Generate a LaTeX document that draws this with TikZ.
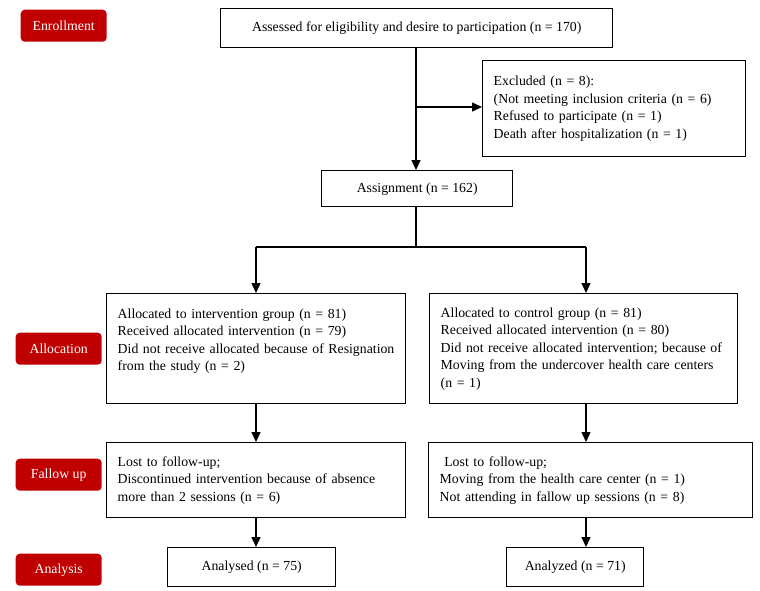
\documentclass[tikz,border=0pt]{standalone}
\usepackage{fontspec}
\setmainfont{Liberation Serif}
\usepackage{tikz}
\usetikzlibrary{arrows.meta}

\definecolor{phasered}{RGB}{192,0,0}

\begin{document}
\begin{tikzpicture}[x=1pt,y=-1pt,>={Triangle[length=10pt,width=9pt]},line width=1.4pt,
  box/.style={draw,anchor=north west,align=left,inner xsep=11pt,inner ysep=3pt,font=\fontsize{13.8}{17.5}\selectfont},
  cbox/.style={box,align=center},
  phase/.style={fill=phasered,text=white,rounded corners=4pt,anchor=north west,minimum width=86pt,minimum height=32pt,inner sep=0pt,font=\fontsize{13.8}{16}\selectfont}]
\useasboundingbox (0,0) rectangle (760,590);

% phase labels
\node[phase] (enrol) at (20,9) {Enrollment};
\node[phase] (alloc) at (15,332) {Allocation};
\node[phase] (follow) at (15,458) {Fallow up};
\node[phase] (anal) at (15,553) {Analysis};

% boxes
\node[cbox,minimum width=392pt,minimum height=39pt] (assess) at (220,8) {Assessed for eligibility and desire to participation (n = 170)};
\node[box,text width=241pt,minimum width=263pt,minimum height=96pt] (excl) at (482,60) {Excluded (n = 8):\\(Not meeting inclusion criteria (n = 6)\\Refused to participate (n = 1)\\Death after hospitalization (n = 1)};
\node[cbox,minimum width=191pt,minimum height=36pt] (assign) at (321,170) {Assignment (n = 162)};
\node[box,text width=277pt,minimum width=299pt,minimum height=110pt] (int) at (106,293) {Allocated to intervention group (n = 81)\\Received allocated intervention (n = 79)\\Did not receive allocated because of Resignation\\from the study (n = 2)\\\mbox{}};
\node[box,text width=286pt,minimum width=308pt,minimum height=110pt] (ctrl) at (429,293) {Allocated to control group (n = 81)\\Received allocated intervention (n = 80)\\Did not receive allocated intervention; because of\\Moving from the undercover health care centers\\(n = 1)};
\node[box,text width=277pt,minimum width=299pt,minimum height=75pt] (lostint) at (106,442) {Lost to follow-up;\\Discontinued intervention because of absence\\more than 2 sessions (n = 6)};
\node[box,text width=302pt,minimum width=324pt,minimum height=75pt] (lostctrl) at (428,442) {\ Lost to follow-up;\\Moving from the health care center (n = 1)\\Not attending in fallow up sessions (n = 8)};
\node[cbox,minimum width=168pt,minimum height=39pt] (anaint) at (167,547) {Analysed (n = 75)};
\node[cbox,minimum width=137pt,minimum height=39pt] (anactrl) at (506,547) {Analyzed (n = 71)};

% connectors
\coordinate (br) at (416,107);
\coordinate (split) at (416,247);
\coordinate (sl) at (256,247);
\coordinate (sr) at (586,247);
\draw[->] (assess.south -| br) -- (assign.north -| br);
\draw[->] (br) -- (br -| excl.west);
\draw (assign.south -| split) -- (split);
\draw (sl) -- (sr);
\draw[->] (sl) -- (sl |- int.north);
\draw[->] (sr) -- (sr |- ctrl.north);
\draw[->] (int.south -| sl) -- (lostint.north -| sl);
\draw[->] (ctrl.south -| sr) -- (lostctrl.north -| sr);
\draw[->] (lostint.south -| sl) -- (anaint.north -| sl);
\draw[->] (lostctrl.south -| sr) -- (anactrl.north -| sr);
\end{tikzpicture}
\end{document}
